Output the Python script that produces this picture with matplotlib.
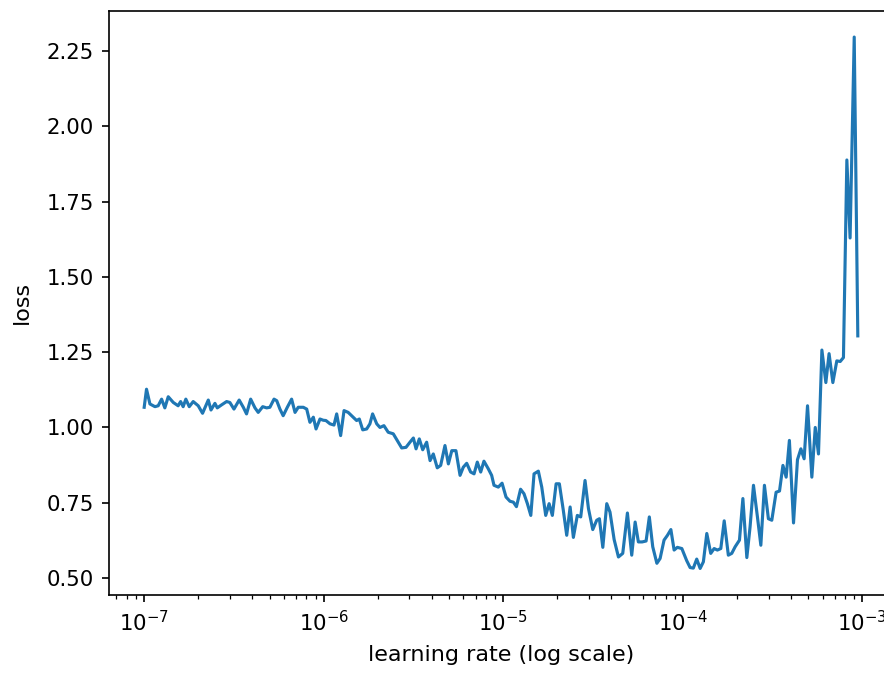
import numpy as np
import matplotlib
matplotlib.use("Agg")
import matplotlib.pyplot as plt

lr_exp = [
    -7.000, -6.987, -6.968, -6.940, -6.922, -6.903, -6.885, -6.866, -6.838, -6.811,
    -6.797, -6.783, -6.768, -6.749, -6.727, -6.699, -6.675, -6.643, -6.628, -6.606,
    -6.593, -6.569, -6.541, -6.523, -6.500, -6.471, -6.448, -6.430, -6.407, -6.383,
    -6.365, -6.340, -6.318, -6.300, -6.277, -6.262, -6.244, -6.226, -6.203, -6.179,
    -6.160, -6.142, -6.114, -6.095, -6.077, -6.058, -6.043, -6.021, -6.003, -5.988,
    -5.965, -5.943, -5.928, -5.906, -5.887, -5.864, -5.836, -5.817, -5.802, -5.783,
    -5.761, -5.743, -5.728, -5.705, -5.687, -5.665, -5.641, -5.613, -5.591, -5.566,
    -5.542, -5.520, -5.501, -5.486, -5.468, -5.449, -5.427, -5.408, -5.390, -5.368,
    -5.349, -5.325, -5.306, -5.287, -5.264, -5.241, -5.223, -5.204, -5.182, -5.163,
    -5.145, -5.126, -5.108, -5.084, -5.065, -5.052, -5.028, -5.007, -4.985, -4.963,
    -4.944, -4.927, -4.904, -4.885, -4.866, -4.847, -4.829, -4.805, -4.786, -4.764,
    -4.745, -4.727, -4.706, -4.688, -4.666, -4.647, -4.628, -4.610, -4.588, -4.569,
    -4.545, -4.526, -4.502, -4.480, -4.465, -4.446, -4.424, -4.406, -4.383, -4.359,
    -4.335, -4.309, -4.285, -4.266, -4.248, -4.227, -4.205, -4.187, -4.168, -4.145,
    -4.127, -4.105, -4.086, -4.067, -4.049, -4.031, -4.006, -3.979, -3.960, -3.942,
    -3.923, -3.904, -3.886, -3.867, -3.845, -3.826, -3.808, -3.789, -3.770, -3.747,
    -3.728, -3.709, -3.685, -3.666, -3.644, -3.626, -3.607, -3.585, -3.566, -3.546,
    -3.524, -3.505, -3.481, -3.462, -3.443, -3.425, -3.407, -3.384, -3.362, -3.343,
    -3.325, -3.306, -3.282, -3.263, -3.245, -3.226, -3.204, -3.186, -3.165, -3.143,
    -3.124, -3.106, -3.087, -3.069, -3.046, -3.026,
]

losses = [
    1.067, 1.127, 1.078, 1.069, 1.072, 1.094, 1.065, 1.102, 1.083, 1.072,
    1.086, 1.069, 1.094, 1.069, 1.086, 1.072, 1.047, 1.091, 1.058, 1.080,
    1.065, 1.075, 1.086, 1.083, 1.061, 1.091, 1.067, 1.045, 1.094, 1.065,
    1.050, 1.069, 1.065, 1.067, 1.094, 1.089, 1.061, 1.039, 1.067, 1.094,
    1.050, 1.067, 1.067, 1.061, 1.017, 1.034, 0.995, 1.028, 1.024, 1.023,
    1.012, 1.008, 1.045, 0.973, 1.056, 1.050, 1.034, 1.023, 1.028, 0.992,
    0.995, 1.012, 1.045, 1.012, 1.000, 1.006, 0.984, 0.979, 0.957, 0.932,
    0.934, 0.951, 0.965, 0.929, 0.962, 0.926, 0.951, 0.890, 0.912, 0.866,
    0.874, 0.940, 0.879, 0.923, 0.923, 0.841, 0.868, 0.881, 0.852, 0.846,
    0.885, 0.852, 0.888, 0.863, 0.841, 0.808, 0.802, 0.815, 0.769, 0.755,
    0.752, 0.737, 0.795, 0.780, 0.747, 0.708, 0.846, 0.855, 0.802, 0.708,
    0.747, 0.708, 0.813, 0.813, 0.725, 0.642, 0.736, 0.635, 0.708, 0.703,
    0.824, 0.731, 0.661, 0.692, 0.697, 0.602, 0.747, 0.719, 0.628, 0.570,
    0.582, 0.716, 0.576, 0.686, 0.620, 0.620, 0.623, 0.703, 0.604, 0.549,
    0.565, 0.626, 0.642, 0.661, 0.593, 0.602, 0.598, 0.558, 0.535, 0.533,
    0.563, 0.532, 0.554, 0.648, 0.582, 0.598, 0.593, 0.598, 0.690, 0.576,
    0.582, 0.604, 0.626, 0.764, 0.568, 0.670, 0.808, 0.703, 0.609, 0.808,
    0.697, 0.692, 0.785, 0.789, 0.874, 0.835, 0.957, 0.683, 0.893, 0.929,
    0.896, 1.072, 0.835, 1.000, 0.912, 1.257, 1.149, 1.245, 1.149, 1.221,
    1.219, 1.232, 1.888, 1.629, 2.296, 1.304,
]

lrs = 10.0 ** np.array(lr_exp)

W, H, DPI = 884, 673, 150
fig = plt.figure(figsize=(W / DPI, H / DPI), dpi=DPI)
ax = fig.add_axes([108.5 / W, (H - 595) / H, 0.888, (595 - 10.5) / H])
ax.plot(lrs, losses, color="#1f77b4", linewidth=1.5)
ax.set_xscale("log")
ax.tick_params(labelsize=10.2)
ax.set_ylabel("loss", fontsize=10.7, labelpad=7)
ax.set_xlabel("learning rate (log scale)", fontsize=10.7, labelpad=5)

fig.savefig("out.png", dpi=DPI)
